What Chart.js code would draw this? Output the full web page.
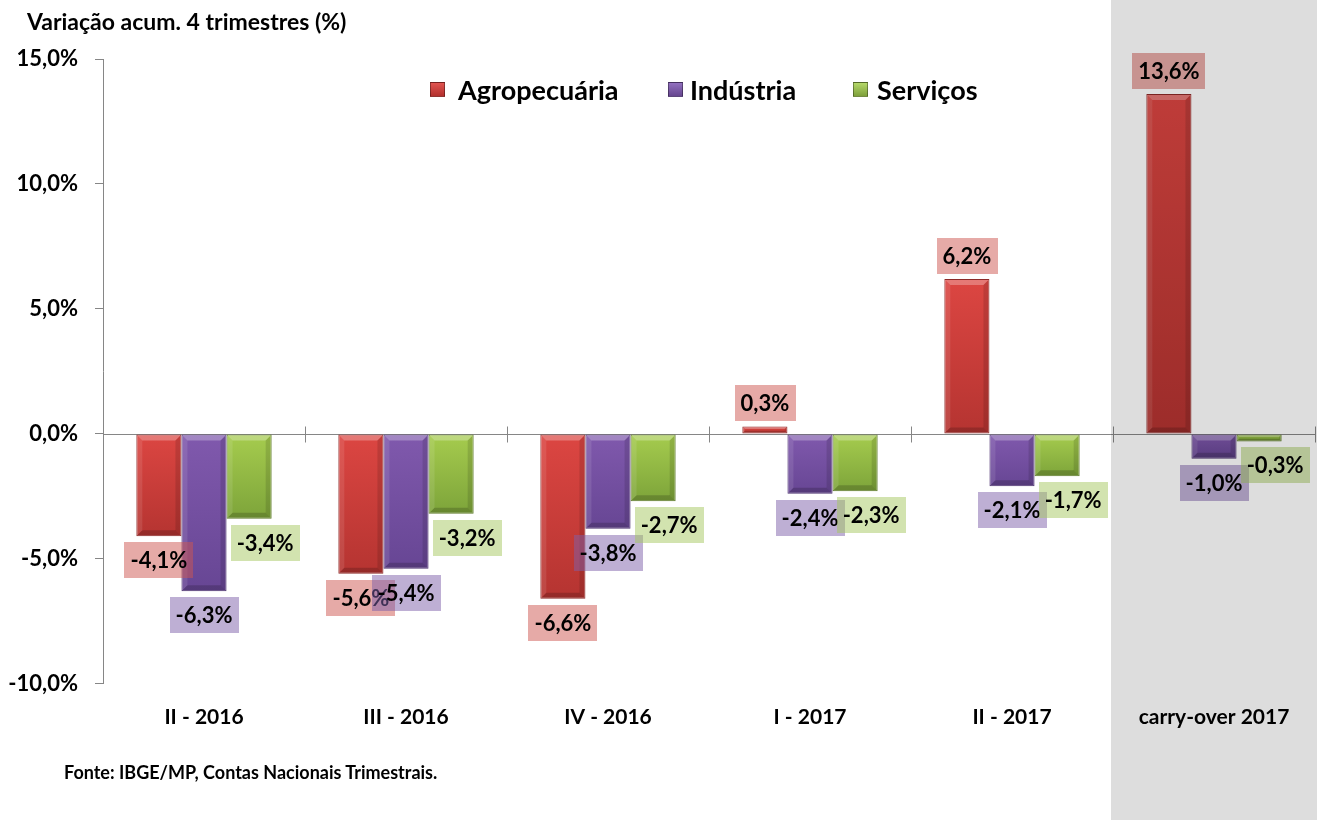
<!DOCTYPE html>
<html>
<head>
<meta charset="utf-8">
<script src="https://cdn.jsdelivr.net/npm/chart.js@4.4.0/dist/chart.umd.min.js"></script>
<style>
  body { margin: 0; background: #fff; font-family: Lato, "Open Sans", sans-serif; }
  #wrap { position: relative; width: 1325px; height: 820px; }
  #chart { position: absolute; left: 0; top: 0; }
  .txt { position: absolute; font-weight: bold; color: #000; white-space: nowrap; }
  #title { left: 27px; top: 7px; font-size: 23px; }
  #source { left: 64px; top: 761px; font-size: 18px; }
  .leg { position: absolute; top: 73px; font-size: 27px; font-weight: bold; display: flex; align-items: center; }
  .leg span.box { width: 15px; height: 15px; border: 1px solid rgba(0,0,0,0.35); box-sizing: border-box; }
</style>
</head>
<body>
<div id="wrap">
  <canvas id="chart" width="1325" height="820"></canvas>
  <div class="txt" id="title">Variação acum. 4 trimestres (%)</div>
  <div class="leg" style="left:430px"><span class="box" style="background:linear-gradient(#e05450,#b3302d);margin-right:13px"></span>Agropecuária</div>
  <div class="leg" style="left:668px"><span class="box" style="background:linear-gradient(#9270bf,#66468f);margin-right:7px"></span>Indústria</div>
  <div class="leg" style="left:853px"><span class="box" style="background:linear-gradient(#b5d86a,#7ea03a);margin-right:9px"></span>Serviços</div>
  <div class="txt" id="source">Fonte: IBGE/MP, Contas Nacionais Trimestrais.</div>
</div>
<script>
const categories = ["II - 2016", "III - 2016", "IV - 2016", "I - 2017", "II - 2017", "carry-over 2017"];
const agropecuaria = [-4.1, -5.6, -6.6, 0.3, 6.2, 13.6];
const industria = [-6.3, -5.4, -3.8, -2.4, -2.1, -1.0];
const servicos = [-3.4, -3.2, -2.7, -2.3, -1.7, -0.3];
const yTicks = [-10, -5, 0, 5, 10, 15];

const seriesNames = ["Agropecuária", "Indústria", "Serviços"];
const topColors = ['#dc4642', '#8059ad', '#a6cc4e'];
const bottomColors = ['#b53431', '#674694', '#7da43a'];
const edgeColors = ['#8c2a28', '#4d3370', '#5e7a2a'];
const labelBoxColors = ['rgba(205,85,80,0.5)', 'rgba(125,95,170,0.5)', 'rgba(165,200,95,0.5)'];
const labelShift = [0, 0, 16]; // the Serviços labels sit a bit to the right

const fmt = v => v.toFixed(1).replace('.', ',') + '%';
const FONT = 'Lato, "Open Sans", sans-serif';

function barGradient(i) {
  return function (c) {
    const chart = c.chart;
    if (c.type !== 'data' || !chart.scales.y) return topColors[i];
    const y = chart.scales.y;
    const v = c.raw;
    const top = y.getPixelForValue(Math.max(v, 0));
    const bot = y.getPixelForValue(Math.min(v, 0));
    if (!isFinite(top) || !isFinite(bot) || bot - top < 1) return topColors[i];
    const g = chart.ctx.createLinearGradient(0, top, 0, bot);
    g.addColorStop(0, topColors[i]);
    g.addColorStop(1, bottomColors[i]);
    return g;
  };
}

// zero line and category ticks crossing it
const zeroAxis = {
  id: 'zeroAxis',
  beforeDatasetsDraw(chart) {
    const { ctx, chartArea, scales: { x, y } } = chart;
    const y0 = Math.round(y.getPixelForValue(0)) + 0.5;
    const half = (x.getPixelForValue(1) - x.getPixelForValue(0)) / 2;
    ctx.save();
    ctx.strokeStyle = '#868686';
    ctx.lineWidth = 1;
    ctx.beginPath();
    ctx.moveTo(chartArea.left, y0);
    ctx.lineTo(chartArea.right, y0);
    for (let i = 0; i < categories.length; i++) {
      const xb = Math.round(x.getPixelForValue(i) + half) + 0.5;
      ctx.moveTo(xb, y0 - 8);
      ctx.lineTo(xb, y0 + 8);
    }
    ctx.stroke();
    ctx.restore();
  }
};

// bevel look on the bars
const bevel = {
  id: 'bevel',
  afterDatasetsDraw(chart) {
    const ctx = chart.ctx;
    ctx.save();
    chart.data.datasets.forEach((ds, i) => {
      chart.getDatasetMeta(i).data.forEach(bar => {
        const p = bar.getProps(['x', 'y', 'base', 'width'], true);
        const l = p.x - p.width / 2 + 1, r = p.x + p.width / 2 - 1;
        const t = Math.min(p.y, p.base) + 1, b = Math.max(p.y, p.base) - 1;
        const h = b - t;
        if (h < 2) return;
        const e = Math.min(5, h / 3);
        ctx.fillStyle = 'rgba(255,255,255,0.28)';
        ctx.beginPath();
        ctx.moveTo(l, t); ctx.lineTo(r, t); ctx.lineTo(r - e, t + e); ctx.lineTo(l + e, t + e); ctx.closePath();
        ctx.fill();
        ctx.fillStyle = 'rgba(255,255,255,0.10)';
        ctx.beginPath();
        ctx.moveTo(l, t); ctx.lineTo(l + e, t + e); ctx.lineTo(l + e, b - e); ctx.lineTo(l, b); ctx.closePath();
        ctx.fill();
        ctx.fillStyle = 'rgba(0,0,0,0.12)';
        ctx.beginPath();
        ctx.moveTo(r, t); ctx.lineTo(r - e, t + e); ctx.lineTo(r - e, b - e); ctx.lineTo(r, b); ctx.closePath();
        ctx.fill();
        ctx.fillStyle = 'rgba(0,0,0,0.18)';
        ctx.beginPath();
        ctx.moveTo(l, b); ctx.lineTo(r, b); ctx.lineTo(r - e, b - e); ctx.lineTo(l + e, b - e); ctx.closePath();
        ctx.fill();
      });
    });
    ctx.restore();
  }
};

// value labels on tinted boxes
const valueLabels = {
  id: 'valueLabels',
  afterDatasetsDraw(chart) {
    const ctx = chart.ctx;
    ctx.save();
    ctx.font = 'bold 22px ' + FONT;
    ctx.textAlign = 'center';
    ctx.textBaseline = 'middle';
    chart.data.datasets.forEach((ds, i) => {
      chart.getDatasetMeta(i).data.forEach((bar, j) => {
        const v = ds.data[j];
        const txt = fmt(v);
        const w = ctx.measureText(txt).width + 12;
        const h = 36;
        let cx = bar.x + labelShift[i];
        if (cx + w / 2 > chart.width) cx = chart.width - w / 2;
        const top = v >= 0 ? bar.y - 5 - h : bar.y + 6;
        ctx.fillStyle = labelBoxColors[i];
        ctx.fillRect(Math.round(cx - w / 2), Math.round(top), Math.round(w), h);
        ctx.fillStyle = '#000';
        ctx.fillText(txt, cx, top + h / 2 + 1);
      });
    });
    ctx.restore();
  }
};

// grey band over the carry-over column
const carryBand = {
  id: 'carryBand',
  afterDraw(chart) {
    const { ctx, chartArea, scales: { x } } = chart;
    const n = categories.length - 1;
    const left = (x.getPixelForValue(n - 1) + x.getPixelForValue(n)) / 2 - 2;
    ctx.save();
    ctx.fillStyle = 'rgba(0,0,0,0.135)';
    ctx.fillRect(left, 0, chartArea.right + 2 - left, chart.height);
    ctx.restore();
  }
};

const series = [agropecuaria, industria, servicos];

new Chart(document.getElementById('chart').getContext('2d'), {
  type: 'bar',
  data: {
    labels: categories,
    datasets: series.map((d, i) => ({
      label: seriesNames[i],
      data: d,
      backgroundColor: barGradient(i),
      borderColor: edgeColors[i],
      borderWidth: 1,
      borderSkipped: false,
      categoryPercentage: 0.67,
      barPercentage: 1.0
    }))
  },
  options: {
    responsive: false,
    animation: false,
    devicePixelRatio: 1,
    layout: { padding: { top: 59, right: 10, bottom: 77, left: 0 } },
    plugins: {
      legend: { display: false },
      tooltip: { enabled: false }
    },
    scales: {
      x: {
        grid: { display: false },
        border: { display: false },
        ticks: { color: '#000', font: { family: FONT, size: 21, weight: 'bold' }, padding: 13, maxRotation: 0 }
      },
      y: {
        min: -10,
        max: 15,
        afterBuildTicks: s => { s.ticks = yTicks.map(v => ({ value: v })); },
        afterFit: s => { s.width = 103; },
        grid: { drawOnChartArea: false, drawTicks: true, tickLength: 8, color: '#868686' },
        border: { color: '#868686' },
        ticks: {
          color: '#000',
          padding: 17,
          font: { family: FONT, size: 22, weight: 'bold' },
          callback: v => fmt(v)
        }
      }
    }
  },
  plugins: [zeroAxis, bevel, valueLabels, carryBand]
});
</script>
</body>
</html>
